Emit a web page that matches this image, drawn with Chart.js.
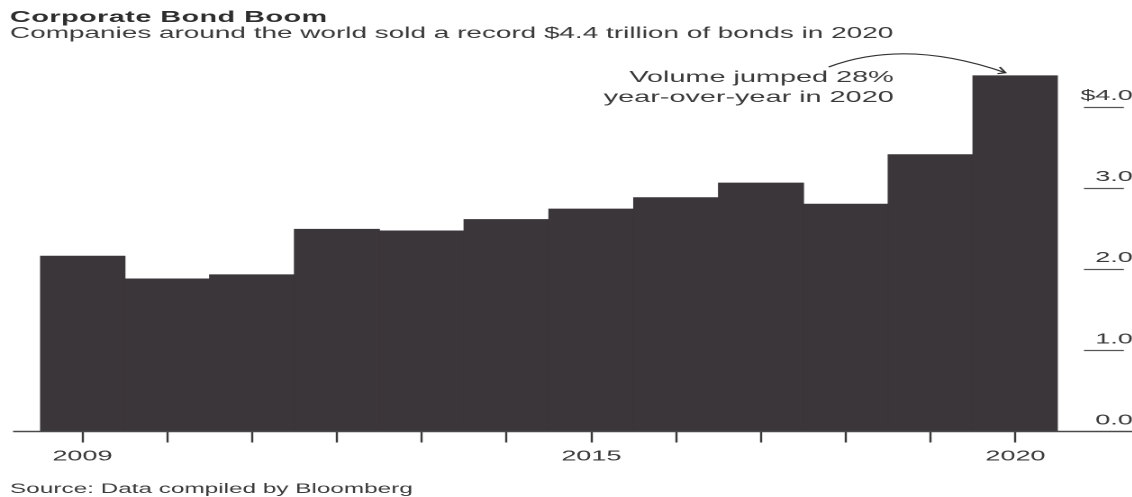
<!DOCTYPE html>
<html>
<head>
<meta charset="utf-8">
<script src="https://cdn.jsdelivr.net/npm/chart.js@4.4.1/dist/chart.umd.min.js"></script>
<style>
html,body{margin:0;padding:0;background:#fff;overflow:hidden;width:1132px;height:497px}
#wrap{position:absolute;left:0;top:0;height:497px;transform-origin:0 0;}
</style>
</head>
<body>
<div id="wrap"><canvas id="c"></canvas></div>
<script>
// ---- data ----
const years = ['2009','2010','2011','2012','2013','2014','2015','2016','2017','2018','2019','2020'];
const volumes = [2.16, 1.88, 1.93, 2.49, 2.47, 2.61, 2.74, 2.88, 3.06, 2.80, 3.41, 4.38];
const shownYears = ['2009','2015','2020'];
const yTickValues = [0, 1, 2, 3, 4];
const titleText = 'Corporate Bond Boom';
const subtitleText = 'Companies around the world sold a record $4.4 trillion of bonds in 2020';
const sourceText = 'Source: Data compiled by Bloomberg';
const noteLines = ['Volume jumped 28%', 'year-over-year in 2020'];

// ---- layout (the reference artwork is horizontally stretched) ----
const S = 1.8;
const W = 1132 / S;
const X = v => v / S;
const wrap = document.getElementById('wrap');
wrap.style.width = W + 'px';
wrap.style.transform = 'scaleX(' + S + ')';

const FONT = '"Liberation Sans", Arial, Helvetica, sans-serif';
const BAR = '#3b363a';
const INK = '#3a3a3a';

const decor = {
  id: 'decor',
  afterDraw(chart) {
    const ctx = chart.ctx;
    const ys = chart.scales.y;
    const y0 = ys.getPixelForValue(0);
    ctx.save();
    // baseline
    ctx.strokeStyle = '#4a4a4a';
    ctx.lineWidth = 1.6;
    ctx.beginPath(); ctx.moveTo(X(13), y0); ctx.lineTo(W, y0); ctx.stroke();
    // short rules under right-hand labels
    ctx.lineWidth = 1.3;
    ctx.strokeStyle = '#555';
    yTickValues.forEach(v => {
      if (v === 0) return;
      const y = Math.round(ys.getPixelForValue(v)) + 0.5;
      ctx.beginPath(); ctx.moveTo(X(1083), y); ctx.lineTo(X(1123), y); ctx.stroke();
    });
    // titles
    ctx.fillStyle = '#2e2e2e';
    ctx.textAlign = 'left';
    ctx.textBaseline = 'alphabetic';
    ctx.font = 'bold 16px ' + FONT;
    if ('letterSpacing' in ctx) ctx.letterSpacing = '0.25px';
    ctx.fillText(titleText, X(10), 22);
    if ('letterSpacing' in ctx) ctx.letterSpacing = '0px';
    ctx.fillStyle = INK;
    ctx.font = '15.5px ' + FONT;
    ctx.fillText(subtitleText, X(10), 38);
    ctx.font = '13.5px ' + FONT;
    ctx.fillText(sourceText, X(10), 493);
    // annotation
    ctx.textAlign = 'right';
    ctx.font = '16px ' + FONT;
    ctx.fillText(noteLines[0], X(893), 82);
    ctx.fillText(noteLines[1], X(893), 102);
    // arrow (reference coords -> internal)
    const bar = chart.getDatasetMeta(0).data[years.length - 1];
    const ex = bar.x * S - 10, ey = bar.y - 3;
    const sx = 828, sy = 67, cx = 905, cy = 38;
    ctx.strokeStyle = '#333';
    ctx.lineWidth = 1.2;
    ctx.beginPath();
    ctx.moveTo(X(sx), sy);
    ctx.quadraticCurveTo(X(cx), cy, X(ex), ey);
    ctx.stroke();
    const ang = Math.atan2(ey - cy, ex - cx);
    const L = 8;
    ctx.beginPath();
    ctx.moveTo(X(ex - L * Math.cos(ang - 0.45)), ey - L * Math.sin(ang - 0.45));
    ctx.lineTo(X(ex), ey);
    ctx.lineTo(X(ex - L * Math.cos(ang + 0.45)), ey - L * Math.sin(ang + 0.45));
    ctx.stroke();
    ctx.restore();
  }
};

new Chart(document.getElementById('c'), {
  type: 'bar',
  data: {
    labels: years,
    datasets: [{
      data: volumes,
      backgroundColor: BAR,
      borderWidth: 0,
      barPercentage: 1,
      categoryPercentage: 1
    }]
  },
  options: {
    responsive: true,
    maintainAspectRatio: false,
    devicePixelRatio: 2,
    animation: false,
    layout: { padding: { left: X(40), right: 0, top: 66, bottom: 0 } },
    plugins: { legend: { display: false }, tooltip: { enabled: false }, title: { display: false } },
    scales: {
      x: {
        type: 'category',
        offset: true,
        border: { display: false },
        grid: { display: true, drawOnChartArea: false, drawTicks: true, tickLength: 11, tickWidth: 1.2, tickColor: '#3a3a3a', offset: false },
        ticks: {
          autoSkip: false, maxRotation: 0, minRotation: 0, padding: 5,
          color: INK, font: { family: FONT, size: 15 },
          callback: (v, i) => shownYears.includes(years[i]) ? years[i] : ''
        },
        afterFit: s => { s.height = 497 - 431.5; }
      },
      y: {
        position: 'right',
        min: 0, max: 4.5,
        afterBuildTicks: s => { s.ticks = yTickValues.map(v => ({ value: v })); },
        border: { display: false },
        grid: { display: false, drawTicks: false },
        ticks: {
          crossAlign: 'far', padding: 11, labelOffset: -11,
          color: INK, font: { family: FONT, size: 15 },
          callback: v => (v === 4 ? '$' : '') + Number(v).toFixed(1)
        },
        afterFit: s => { s.width = X(1132 - 1057); }
      }
    }
  },
  plugins: [decor]
});
</script>
</body>
</html>
